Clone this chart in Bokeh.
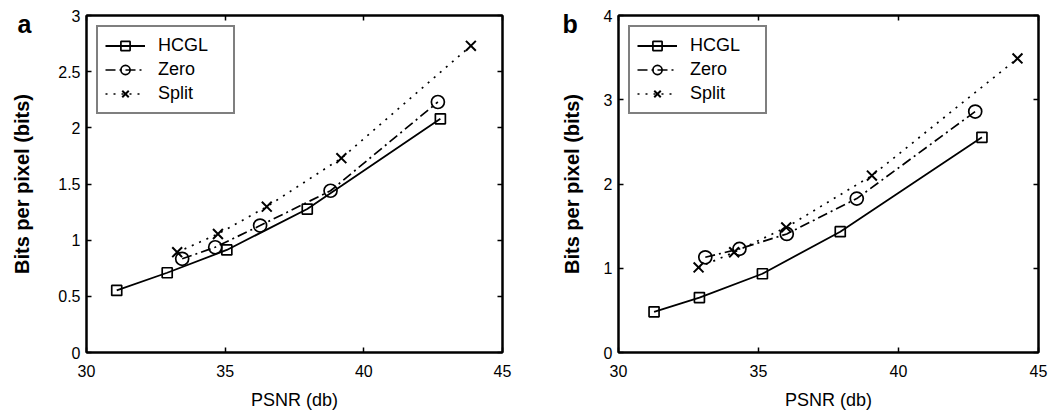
from bokeh.plotting import figure
from bokeh.layouts import row
from bokeh.models import (LinearAxis, FixedTicker, Legend, LegendItem, Range1d,
                          CustomJSTickFormatter)
from bokeh.embed import file_html
from bokeh.resources import INLINE

# ---- data ----
psnr_hcgl_a = [31.09, 32.91, 35.06, 37.96, 42.76]
bpp_hcgl_a = [0.553, 0.71, 0.913, 1.277, 2.08]
psnr_zero_a = [33.45, 34.64, 36.26, 38.80, 42.67]
bpp_zero_a = [0.834, 0.937, 1.13, 1.44, 2.23]
psnr_split_a = [33.27, 34.74, 36.50, 39.19, 43.86]
bpp_split_a = [0.893, 1.055, 1.298, 1.73, 2.73]

psnr_hcgl_b = [31.27, 32.89, 35.14, 37.92, 42.98]
bpp_hcgl_b = [0.483, 0.652, 0.935, 1.434, 2.554]
psnr_zero_b = [33.10, 34.32, 36.01, 38.51, 42.74]
bpp_zero_b = [1.13, 1.23, 1.407, 1.827, 2.86]
psnr_split_b = [32.86, 34.13, 35.99, 39.05, 44.25]
bpp_split_b = [1.01, 1.19, 1.485, 2.10, 3.49]

series_names = ["HCGL", "Zero", "Split"]
x_ticks = [30, 35, 40, 45]
x_tick_labels = ["30", "35", "40", "45"]
y_ticks_a = [0, 0.5, 1, 1.5, 2, 2.5, 3]
y_tick_labels_a = ["0", "0.5", "1", "1.5", "2", "2.5", "3"]
y_ticks_b = [0, 1, 2, 3, 4]
y_tick_labels_b = ["0", "1", "2", "3", "4"]

FONT = "Liberation Sans"


def make_panel(tag, tag_offset, width, borders, ymax, yticks, ylabels, data, ylabel_standoff):
    bl, br, bt, bb = borders
    p = figure(width=width, height=415, output_backend="svg", toolbar_location=None,
               x_range=Range1d(30, 45), y_range=Range1d(0, ymax),
               min_border_left=bl, min_border_right=br, min_border_top=bt, min_border_bottom=bb,
               x_axis_label="PSNR (db)", y_axis_label="Bits per pixel (bits)")
    p.grid.visible = False
    p.outline_line_color = "black"
    p.outline_line_width = 2
    p.background_fill_color = "white"
    p.border_fill_color = "white"

    # panel tag ("a" / "b") as a left-aligned title pulled down beside the frame
    p.title.text = tag
    p.title.align = "left"
    p.title.offset = tag_offset
    p.title.standoff = -44
    p.title.vertical_align = "bottom"
    p.title.text_font = FONT
    p.title.text_font_size = "25px"
    p.title.text_font_style = "bold"
    p.title.text_color = "black"

    for ax, ticks, labels in ((p.xaxis[0], x_ticks, x_tick_labels), (p.yaxis[0], yticks, ylabels)):
        ax.ticker = FixedTicker(ticks=ticks)
        ax.major_label_overrides = {t: l for t, l in zip(ticks, labels)}
        ax.major_tick_in = 5
        ax.major_tick_out = 0
        ax.minor_tick_line_color = None
        ax.axis_line_width = 2
        ax.major_tick_line_width = 1.5
        ax.major_label_text_font = FONT
        ax.major_label_text_font_size = "16px"
        ax.major_label_text_color = "black"
        ax.axis_label_text_font = FONT
        ax.axis_label_text_color = "black"
    p.xaxis[0].major_label_standoff = 12
    p.xaxis[0].axis_label_standoff = 10
    p.xaxis[0].axis_label_text_font_size = "18px"
    p.xaxis[0].axis_label_text_font_style = "normal"
    p.yaxis[0].major_label_standoff = 6
    p.yaxis[0].axis_label_standoff = ylabel_standoff
    p.yaxis[0].axis_label_text_font_size = "20px"
    p.yaxis[0].axis_label_text_font_style = "bold"

    # mirror ticks on right and top (box style), without labels
    for side, ticks in (("right", yticks), ("above", x_ticks)):
        ax = LinearAxis(ticker=FixedTicker(ticks=ticks), major_tick_in=5, major_tick_out=0,
                        minor_tick_line_color=None,
                        formatter=CustomJSTickFormatter(code="return ''"),
                        major_label_standoff=0, axis_line_width=2, major_tick_line_width=1.5)
        p.add_layout(ax, side)

    (xh, yh), (xz, yz), (xs, ys) = data
    l1 = p.line(xh, yh, line_color="black", line_width=1.8)
    m1 = p.scatter(xh, yh, marker="square", size=10, line_color="black", line_width=1.7, fill_color=None)
    l2 = p.line(xz, yz, line_color="black", line_width=1.7, line_dash="10 4 2 4")
    m2 = p.scatter(xz, yz, marker="circle", size=13, line_color="black", line_width=1.7, fill_color=None)
    l3 = p.line(xs, ys, line_color="black", line_width=1.7, line_dash="2 6")
    m3 = p.scatter(xs, ys, marker="x", size=14, line_color="black", line_width=2)

    legend = Legend(items=[LegendItem(label=series_names[0], renderers=[l1, m1]),
                           LegendItem(label=series_names[1], renderers=[l2, m2]),
                           LegendItem(label=series_names[2], renderers=[l3, m3])],
                    location="top_left", margin=10, border_line_color="black", border_line_width=2,
                    label_text_font=FONT, label_text_font_size="18px", label_text_color="black",
                    glyph_width=40, glyph_height=23, label_height=23, label_width=68,
                    spacing=1, padding=7, label_standoff=13, background_fill_alpha=1)
    p.add_layout(legend)
    return p


pa = make_panel("a", -69, 530, (86, 28, 14, 63), 3, y_ticks_a, y_tick_labels_a,
                [(psnr_hcgl_a, bpp_hcgl_a), (psnr_zero_a, bpp_zero_a), (psnr_split_a, bpp_split_a)], 22)
pb = make_panel("b", -56, 525, (88, 17, 15, 61), 4, y_ticks_b, y_tick_labels_b,
                [(psnr_hcgl_b, bpp_hcgl_b), (psnr_zero_b, bpp_zero_b), (psnr_split_b, bpp_split_b)], 18)

layout = row(pa, pb, spacing=0)
open("out.html", "w").write(file_html(layout, INLINE))
